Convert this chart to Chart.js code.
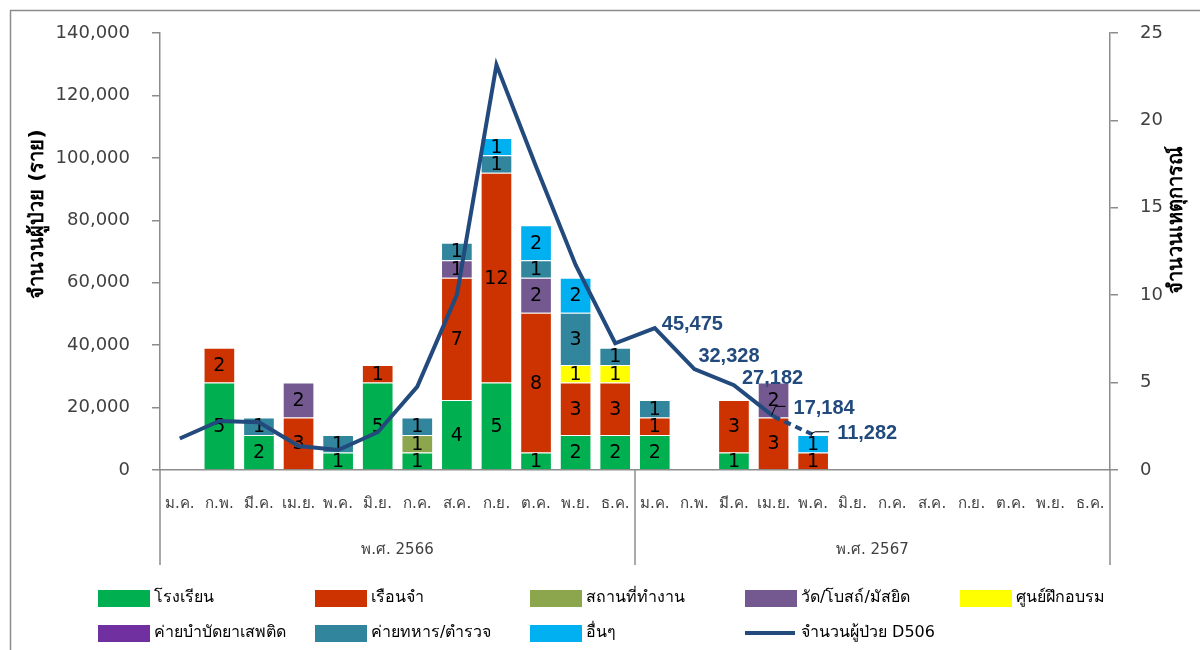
<!DOCTYPE html>
<html>
<head>
<meta charset="utf-8">
<script src="https://cdn.jsdelivr.net/npm/chart.js@4/dist/chart.umd.min.js"></script>
<style>
  html, body { margin: 0; padding: 0; background: #fff; }
  #wrap { position: relative; width: 1200px; height: 650px; }
</style>
</head>
<body>
<div id="wrap"><canvas id="myChart" width="1200" height="650"></canvas></div>
<script>
// ข้อมูล
var monthLabels = ['ม.ค.', 'ก.พ.', 'มี.ค.', 'เม.ย.', 'พ.ค.', 'มิ.ย.', 'ก.ค.', 'ส.ค.', 'ก.ย.', 'ต.ค.', 'พ.ย.', 'ธ.ค.',
                   'ม.ค.', 'ก.พ.', 'มี.ค.', 'เม.ย.', 'พ.ค.', 'มิ.ย.', 'ก.ค.', 'ส.ค.', 'ก.ย.', 'ต.ค.', 'พ.ย.', 'ธ.ค.'];
var yearLabels = ['พ.ศ. 2566', 'พ.ศ. 2567'];

// จำนวนเหตุการณ์ (แกนขวา)
var school    = [0, 5, 2, 0, 1, 5, 1, 4, 5, 1, 2, 2,   2, 0, 1, 0, 0, 0, 0, 0, 0, 0, 0, 0];
var prison    = [0, 2, 0, 3, 0, 1, 0, 7, 12, 8, 3, 3,  1, 0, 3, 3, 1, 0, 0, 0, 0, 0, 0, 0];
var workplace = [0, 0, 0, 0, 0, 0, 1, 0, 0, 0, 0, 0,   0, 0, 0, 0, 0, 0, 0, 0, 0, 0, 0, 0];
var temple    = [0, 0, 0, 2, 0, 0, 0, 1, 0, 2, 0, 0,   0, 0, 0, 2, 0, 0, 0, 0, 0, 0, 0, 0];
var training  = [0, 0, 0, 0, 0, 0, 0, 0, 0, 0, 1, 1,   0, 0, 0, 0, 0, 0, 0, 0, 0, 0, 0, 0];
var drugCamp  = [0, 0, 0, 0, 0, 0, 0, 0, 0, 0, 0, 0,   0, 0, 0, 0, 0, 0, 0, 0, 0, 0, 0, 0];
var military  = [0, 0, 1, 0, 1, 0, 1, 1, 1, 1, 3, 1,   1, 0, 0, 0, 0, 0, 0, 0, 0, 0, 0, 0];
var others    = [0, 0, 0, 0, 0, 0, 0, 0, 1, 2, 2, 0,   0, 0, 0, 0, 1, 0, 0, 0, 0, 0, 0, 0];

// จำนวนผู้ป่วย D506 (แกนซ้าย)
var patients = [10100, 15700, 15300, 7700, 6400, 12100, 26700, 56100, 129800, 97200, 65700, 40600,
                45475, 32328, 27182, 17184, 11282, null, null, null, null, null, null, null];

var leftTicks = [0, 20000, 40000, 60000, 80000, 100000, 120000, 140000];
var rightTicks = [0, 5, 10, 15, 20, 25];

var lineColor = '#234A7D';
var axisColor = '#8C8C8C';
var textColor = '#404040';
var fontMain = "'DejaVu Sans', 'Noto Sans', sans-serif";

function barSet(label, data, color) {
    return {
        type: 'bar',
        label: label,
        data: data.map(function (v) { return v === 0 ? null : v; }),
        backgroundColor: color,
        borderColor: 'rgba(255,255,255,0.35)',
        borderWidth: 1,
        yAxisID: 'y1',
        stack: 'ev',
        order: 1,
        barPercentage: 0.8,
        categoryPercentage: 1.0
    };
}

// ตัวเลขในแท่ง
var barLabels = {
    id: 'barLabels',
    afterDatasetDraw: function (chart, args) {
        var ds = chart.data.datasets[args.index];
        if (ds.type !== 'bar') return;
        var ctx = chart.ctx;
        ctx.save();
        ctx.font = '19px ' + fontMain;
        ctx.fillStyle = '#000';
        ctx.textAlign = 'center';
        ctx.textBaseline = 'middle';
        args.meta.data.forEach(function (bar, j) {
            var v = ds.data[j];
            if (!v) return;
            var p = bar.getProps(['x', 'y', 'base'], true);
            ctx.fillText(String(v), p.x, (p.y + p.base) / 2 + 1);
        });
        ctx.restore();
    }
};

// ป้ายค่าบนเส้น ปี 2567
var lineLabels = {
    id: 'lineLabels',
    afterDatasetsDraw: function (chart) {
        var idx = chart.data.datasets.findIndex(function (d) { return d.type === 'line'; });
        var meta = chart.getDatasetMeta(idx);
        var ds = chart.data.datasets[idx];
        var offs = { 12: [7, -4, 0], 13: [4, -13, 0], 14: [8, -7, 0], 15: [20, -8, 1], 16: [24, -1, 1] };
        var ctx = chart.ctx;
        ctx.save();
        ctx.font = "bold 20px 'Liberation Sans', Arial, sans-serif";
        ctx.textBaseline = 'middle';
        ctx.textAlign = 'left';
        Object.keys(offs).forEach(function (k) {
            var i = +k;
            var pt = meta.data[i];
            var o = offs[k];
            var tx = pt.x + o[0], ty = pt.y + o[1];
            if (o[2]) {
                ctx.strokeStyle = '#000';
                ctx.lineWidth = 1;
                ctx.beginPath();
                ctx.moveTo(pt.x - 2, pt.y - 1);
                ctx.lineTo(pt.x + 2, ty - 2);
                ctx.lineTo(tx - 8, ty - 2);
                ctx.stroke();
            }
            ctx.fillStyle = lineColor;
            ctx.fillText(ds.data[i].toLocaleString('en-US'), tx, ty);
        });
        ctx.restore();
    }
};

// กรอบ, ชื่อแกน, กลุ่มปี และคำอธิบายสัญลักษณ์
var decor = {
    id: 'decor',
    beforeDraw: function (chart) {
        var ctx = chart.ctx;
        ctx.save();
        ctx.fillStyle = '#fff';
        ctx.fillRect(0, 0, chart.width, chart.height);
        ctx.strokeStyle = '#8C8C8C';
        ctx.lineWidth = 1.5;
        ctx.strokeRect(10.5, 10.5, 1300, 800);
        ctx.restore();
    },
    afterDraw: function (chart) {
        var ctx = chart.ctx;
        var area = chart.chartArea;
        var xs = chart.scales.x;
        ctx.save();

        // ชื่อแกน (อ่านจากล่างขึ้นบนทั้งสองข้าง)
        ctx.fillStyle = '#000';
        ctx.font = 'bold 20px ' + fontMain;
        ctx.textAlign = 'center';
        ctx.textBaseline = 'middle';
        ctx.translate(38, 214);
        ctx.rotate(-Math.PI / 2);
        ctx.fillText('จำนวนผู้ป่วย (ราย)', 0, 0);
        ctx.setTransform(1, 0, 0, 1, 0, 0);
        ctx.translate(1177, 220);
        ctx.rotate(-Math.PI / 2);
        ctx.fillText('จำนวนเหตุการณ์', 0, 0);
        ctx.setTransform(1, 0, 0, 1, 0, 0);

        // year groups
        var mid = (xs.getPixelForValue(11) + xs.getPixelForValue(12)) / 2;
        ctx.strokeStyle = axisColor;
        ctx.lineWidth = 1.5;
        [area.left, mid, area.right].forEach(function (x) {
            ctx.beginPath();
            ctx.moveTo(x, area.bottom);
            ctx.lineTo(x, 565);
            ctx.stroke();
        });
        ctx.fillStyle = textColor;
        ctx.font = '15px ' + fontMain;
        ctx.fillText(yearLabels[0], (area.left + mid) / 2, 550);
        ctx.fillText(yearLabels[1], (mid + area.right) / 2, 550);

        // legend
        var cols = [98, 315, 530, 745, 960];
        var rows = [598, 633];
        ctx.font = '16px ' + fontMain;
        ctx.textAlign = 'left';
        ctx.textBaseline = 'middle';
        chart.data.datasets.forEach(function (ds, i) {
            var x = cols[i % 5], y = rows[Math.floor(i / 5)];
            if (ds.type === 'line') {
                ctx.strokeStyle = lineColor;
                ctx.lineWidth = 4;
                ctx.beginPath();
                ctx.moveTo(x, y);
                ctx.lineTo(x + 50, y);
                ctx.stroke();
            } else {
                ctx.fillStyle = ds.backgroundColor;
                ctx.fillRect(x, y - 8, 52, 17);
            }
            ctx.fillStyle = '#000';
            ctx.fillText(ds.label, x + 56, y);
        });
        ctx.restore();
    }
};

document.addEventListener('DOMContentLoaded', function () {
    var ctx = document.getElementById('myChart').getContext('2d');
    Chart.defaults.font.family = fontMain;
    Chart.defaults.color = textColor;

    new Chart(ctx, {
        data: {
            labels: monthLabels,
            datasets: [
                barSet('โรงเรียน', school, '#00B050'),
                barSet('เรือนจำ', prison, '#CC3300'),
                barSet('สถานที่ทำงาน', workplace, '#8BA64C'),
                barSet('วัด/โบสถ์/มัสยิด', temple, '#73598F'),
                barSet('ศูนย์ฝึกอบรม', training, '#FFFF00'),
                barSet('ค่ายบำบัดยาเสพติด', drugCamp, '#7030A0'),
                barSet('ค่ายทหาร/ตำรวจ', military, '#31859C'),
                barSet('อื่นๆ', others, '#00B0F0'),
                {
                    type: 'line',
                    label: 'จำนวนผู้ป่วย D506',
                    data: patients,
                    borderColor: lineColor,
                    backgroundColor: lineColor,
                    borderWidth: 4,
                    pointRadius: 0,
                    tension: 0,
                    fill: false,
                    yAxisID: 'y',
                    order: 0,
                    segment: {
                        borderDash: function (c) { return c.p0DataIndex === 15 ? [7, 5] : undefined; }
                    }
                }
            ]
        },
        options: {
            responsive: false,
            animation: false,
            layout: { padding: { top: 33, left: 0, right: 0, bottom: 0 } },
            plugins: {
                legend: { display: false },
                tooltip: { enabled: false }
            },
            scales: {
                x: {
                    stacked: true,
                    grid: { display: false },
                    border: { display: true, color: axisColor, width: 1.5 },
                    ticks: {
                        autoSkip: false,
                        maxRotation: 0,
                        padding: 17,
                        color: textColor,
                        font: { size: 15 }
                    },
                    afterFit: function (s) { s.height = 180; }
                },
                y: {
                    position: 'left',
                    min: 0,
                    max: 140000,
                    afterBuildTicks: function (s) { s.ticks = leftTicks.map(function (v) { return { value: v }; }); },
                    grid: { drawOnChartArea: false, color: axisColor, tickLength: 8, lineWidth: 1.5 },
                    border: { display: true, color: axisColor, width: 1.5 },
                    ticks: {
                        padding: 22,
                        color: textColor,
                        font: { size: 18 },
                        callback: function (v) { return v.toLocaleString('en-US'); }
                    },
                    afterFit: function (s) { s.width = 160; }
                },
                y1: {
                    position: 'right',
                    stacked: true,
                    min: 0,
                    max: 25,
                    afterBuildTicks: function (s) { s.ticks = rightTicks.map(function (v) { return { value: v }; }); },
                    grid: { drawOnChartArea: false, color: axisColor, tickLength: 8, lineWidth: 1.5 },
                    border: { display: true, color: axisColor, width: 1.5 },
                    ticks: {
                        padding: 22,
                        color: textColor,
                        font: { size: 18 }
                    },
                    afterFit: function (s) { s.width = 90; }
                }
            }
        },
        plugins: [decor, barLabels, lineLabels]
    });
});
</script>
</body>
</html>
